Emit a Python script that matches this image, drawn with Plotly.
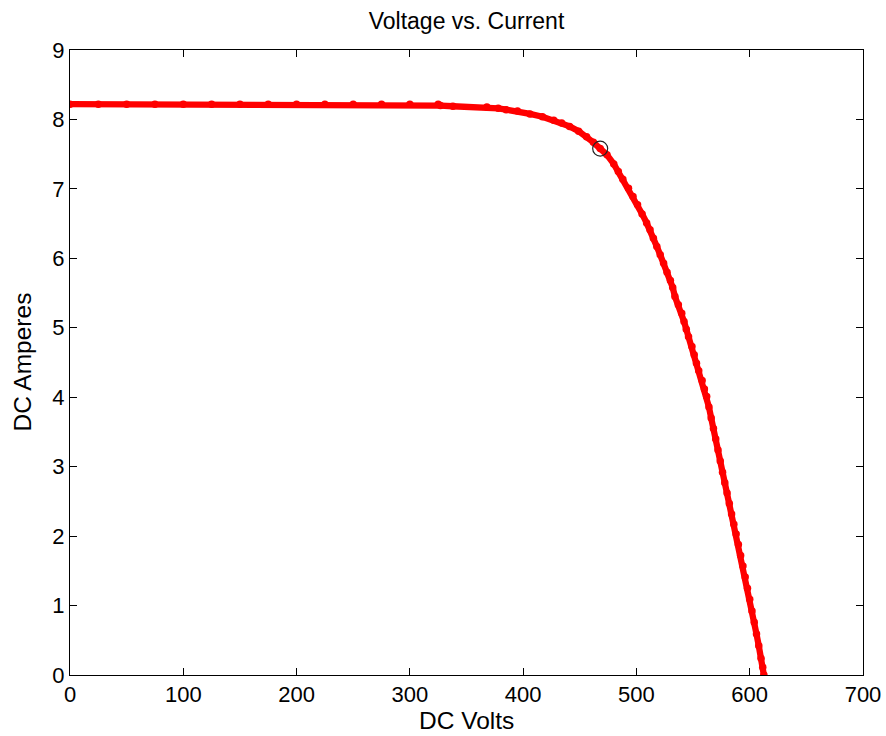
import plotly.graph_objects as go

# I-V curve samples (DC Volts, DC Amperes)
volts = [0, 25, 50, 75, 100, 125, 150, 175, 200, 225, 250, 275, 300, 325,
         327, 338, 368, 378, 385, 395, 406, 417, 427, 434, 441, 449, 456, 462,
         468, 474, 480, 484, 488, 493, 497, 501, 505, 509, 512, 515, 518, 521,
         524, 527, 530, 532, 534, 537, 540, 542, 544, 546, 549, 551, 553, 555,
         558, 560, 562, 564, 566, 568, 570, 572, 574, 576, 578, 580, 582, 584,
         586, 588, 590, 592, 594, 596, 598, 600, 602, 604, 606, 608, 610, 611.5, 612.5]
amps = [8.22, 8.22, 8.22, 8.22, 8.22, 8.22, 8.22, 8.22, 8.22, 8.22, 8.22, 8.22, 8.22, 8.22,
        8.20, 8.19, 8.18, 8.16, 8.14, 8.12, 8.08, 8.04, 7.99, 7.95, 7.90, 7.83, 7.75, 7.67,
        7.58, 7.49, 7.36, 7.25, 7.14, 7.01, 6.89, 6.77, 6.64, 6.51, 6.41, 6.29, 6.17, 6.05,
        5.93, 5.80, 5.68, 5.58, 5.45, 5.33, 5.21, 5.09, 4.98, 4.87, 4.73, 4.61, 4.49, 4.38,
        4.24, 4.12, 4.01, 3.86, 3.70, 3.55, 3.40, 3.24, 3.08, 2.92, 2.77, 2.62, 2.47, 2.32,
        2.17, 2.03, 1.88, 1.72, 1.57, 1.41, 1.25, 1.09, 0.92, 0.76, 0.59, 0.42, 0.24, 0.11, 0.00]

# maximum power point
mpp_volts = [468]
mpp_amps = [7.58]

x_ticks = [0, 100, 200, 300, 400, 500, 600, 700]
y_ticks = [0, 1, 2, 3, 4, 5, 6, 7, 8, 9]

FONT = "Liberation Sans, Arial, sans-serif"
W, H = 886, 736
L, R, T, B = 70, 23, 50, 61
plot_w, plot_h = W - L - R, H - T - B

fig = go.Figure()
fig.add_trace(go.Scatter(
    x=volts, y=amps, mode="lines+markers",
    line=dict(color="#ff0000", width=6.3),
    marker=dict(color="#ff0000", size=7.5),
    showlegend=False, hoverinfo="x+y"))
fig.add_trace(go.Scatter(
    x=mpp_volts, y=mpp_amps, mode="markers",
    marker=dict(symbol="circle-open", color="#222222", size=15,
                line=dict(width=1.2, color="#222222")),
    showlegend=False))

axis_common = dict(
    showgrid=False, zeroline=False, showline=True, linecolor="#000000", linewidth=1,
    mirror="ticks", ticks="inside", ticklen=7, tickcolor="#000000", tickwidth=1,
    tickfont=dict(family=FONT, size=22, color="#000000"),
    automargin=False, ticklabeloverflow="allow",
)

fig.update_layout(
    width=W, height=H,
    margin=dict(l=L, r=R, t=T, b=B, autoexpand=False),
    paper_bgcolor="white", plot_bgcolor="white",
    font=dict(family=FONT, size=22, color="#000000"),
    title=dict(text="Voltage vs. Current", xref="paper", x=0.5, xanchor="center",
               y=1 - 21 / H, yanchor="middle", font=dict(family=FONT, size=23, color="#000000")),
    xaxis=dict(range=[0, 700], tickvals=x_ticks, ticktext=[str(v) for v in x_ticks],
               **axis_common),
    yaxis=dict(range=[0, 9], tickvals=y_ticks, ticktext=[str(v) for v in y_ticks],
               **axis_common),
    annotations=[
        dict(text="DC Volts", xref="paper", yref="paper", x=0.5, y=-(720 - (H - B)) / plot_h,
             xanchor="center", yanchor="middle", showarrow=False,
             font=dict(family=FONT, size=24.5, color="#000000")),
        dict(text="DC Amperes", xref="paper", yref="paper", x=-(L - 22) / plot_w, y=0.5,
             xanchor="center", yanchor="middle", textangle=-90, showarrow=False,
             font=dict(family=FONT, size=24.5, color="#000000")),
    ],
)

fig.write_html("out.html", config={"displayModeBar": False},
               post_script="document.body.style.margin='0';")
